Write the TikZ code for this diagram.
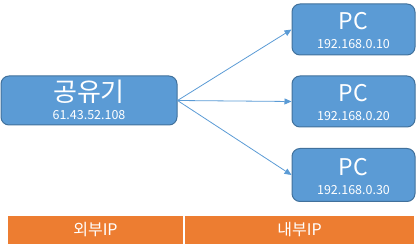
\documentclass[tikz,border=0pt]{standalone}
\usepackage{fontspec}
\setmainfont{Noto Sans CJK KR}
\usetikzlibrary{arrows.meta}
\definecolor{boxfill}{HTML}{5B9BD5}
\definecolor{boxline}{HTML}{41719C}
\definecolor{barfill}{HTML}{ED7D31}
\begin{document}
\begin{tikzpicture}[x=1pt,y=-1pt,
  netbox/.style={draw=boxline, line width=1pt, fill=boxfill, rounded corners=8pt, inner sep=0pt},
  bigtxt/.style={text=white, inner sep=0pt, font=\fontsize{23}{26}\selectfont},
  iptxt/.style={text=white, inner sep=0pt, font=\fontsize{12.5}{14}\selectfont},
  bar/.style={fill=barfill, text=white, inner sep=0pt, font=\fontsize{16}{18}\selectfont},
  link/.style={draw=boxfill, line width=0.8pt, -{Triangle[length=7pt,width=6pt]}}]
\useasboundingbox (0,0) rectangle (416,251);
\node[netbox, minimum width=176pt, minimum height=49pt] (r) at (89,100.5) {};
\node[bigtxt, font=\fontsize{26}{28}\selectfont] (rt) at ([yshift=8.5pt]r.center) {공유기};
\node[iptxt] (ri) at ([yshift=-15pt]r.center) {61.43.52.108};
\node[netbox, minimum width=123pt, minimum height=51pt] (p1) at (353.5,29.5) {};
\node[bigtxt] (p1t) at ([yshift=8pt]p1.center) {PC};
\node[iptxt] (p1i) at ([yshift=-15pt]p1.center) {192.168.0.10};
\node[netbox, minimum width=123pt, minimum height=51pt] (p2) at (353.5,101.5) {};
\node[bigtxt] (p2t) at ([yshift=8pt]p2.center) {PC};
\node[iptxt] (p2i) at ([yshift=-15pt]p2.center) {192.168.0.20};
\node[netbox, minimum width=123pt, minimum height=53pt] (p3) at (353.5,175) {};
\node[bigtxt] (p3t) at ([yshift=8pt]p3.center) {PC};
\node[iptxt] (p3i) at ([yshift=-15pt]p3.center) {192.168.0.30};
\draw[link] (r.east) -- (p1.west);
\draw[link] (r.east) -- (p2.west);
\draw[link] (r.east) -- (p3.west);
\node[bar, minimum width=175pt, minimum height=28pt] (b1) at (95.5,230) {외부IP};
\node[bar, minimum width=229pt, minimum height=28pt] (b2) at (299.5,230) {내부IP};
\end{tikzpicture}
\end{document}
